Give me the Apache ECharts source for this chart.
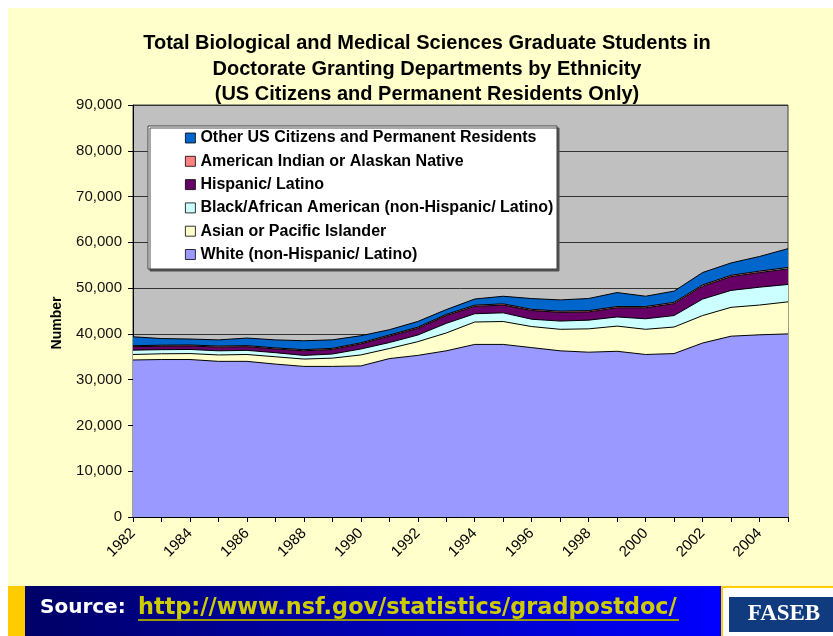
<!DOCTYPE html>
<html><head><meta charset="utf-8">
<script src="https://cdn.jsdelivr.net/npm/echarts@6/dist/echarts.min.js"></script>
<style>html,body{margin:0;padding:0;background:#fff}#c{width:833px;height:636px}</style>
</head><body><div id="c"></div>
<script>
const years = ['1982','1983','1984','1985','1986','1987','1988','1989','1990','1991','1992','1993','1994','1995','1996','1997','1998','1999','2000','2001','2002','2003','2004','2005'];
const white    = [34300,34400,34400,34000,34000,33400,32900,32900,33000,34600,35300,36300,37700,37700,37000,36300,36000,36200,35500,35700,38000,39500,39800,40000];
const asian    = [1200,1250,1300,1400,1500,1600,1600,1800,2400,2200,3000,3900,4900,5000,4600,4700,5100,5500,5500,5800,6000,6300,6500,7000];
const black    = [950,900,900,900,900,900,800,900,1300,1300,1450,2100,1800,1900,1600,1800,1900,2000,2300,2500,3600,3700,3900,3800];
const hispanic = [750,750,750,800,800,800,1000,1000,1100,1400,1450,1700,1600,1700,1900,1900,1800,2000,2400,2600,2800,3000,3200,3400];
const amind    = [220,230,230,240,240,240,250,250,250,260,260,260,270,270,270,270,280,280,280,290,300,300,310,320];
const other    = [1950,1450,1300,1350,1650,1750,1950,1850,1550,1150,1250,1050,1350,1650,2350,2450,2650,3050,2250,2450,2700,2700,3200,4100];

const seriesDefs = [
  {name:'White (non-Hispanic/ Latino)', data:white, color:'#9999FF'},
  {name:'Asian or Pacific Islander', data:asian, color:'#FFFFCC'},
  {name:'Black/African American (non-Hispanic/ Latino)', data:black, color:'#CCFFFF'},
  {name:'Hispanic/ Latino', data:hispanic, color:'#660066'},
  {name:'American Indian or Alaskan Native', data:amind, color:'#FF8080'},
  {name:'Other US Citizens and Permanent Residents', data:other, color:'#0066CC'}
];
const titleText = 'Total Biological and Medical Sciences Graduate Students in\nDoctorate Granting Departments by Ethnicity\n(US Citizens and Permanent Residents Only)';
const yName = 'Number';
const sourceLabel = 'Source:';
const sourceUrl = 'http://www.nsf.gov/statistics/gradpostdoc/';
const FONT = 'Liberation Sans, Arial, sans-serif';

const chart = echarts.init(document.getElementById('c'), null, {renderer:'canvas'});
const option = {
  animation:false,
  backgroundColor:'#ffffff',
  title:{text:titleText, left:427, top:31, textAlign:'center', padding:0,
    textStyle:{fontFamily:FONT, fontWeight:'bold', fontSize:20, color:'#000', lineHeight:25.5}},
  grid:{left:133, right:45, top:105, bottom:119, show:true, backgroundColor:'#C0C0C0', borderColor:'#404040', borderWidth:1, containLabel:false},
  legend:{orient:'vertical', left:185, top:130, itemWidth:10, itemHeight:10, itemGap:7.3, icon:'rect', padding:0, selectedMode:false,
    textStyle:{fontFamily:FONT, fontWeight:'bold', fontSize:16, color:'#000', lineHeight:15},
    itemStyle:{borderColor:'#000', borderWidth:0.8},
    data:seriesDefs.slice().reverse().map(s=>({name:s.name, itemStyle:{color:s.color, borderColor:'#000', borderWidth:0.8}}))},
  xAxis:{type:'category', data:years, boundaryGap:false,
    axisLine:{lineStyle:{color:'#000', width:1}},
    axisTick:{show:true, length:5, interval:0, lineStyle:{color:'#000'}},
    axisLabel:{interval:1, rotate:45, fontSize:15, color:'#000', margin:14, fontFamily:FONT},
    splitLine:{show:false}},
  yAxis:{type:'value', min:0, max:90000, interval:10000,
    axisLine:{show:true, lineStyle:{color:'#000'}},
    axisTick:{show:true, length:5, lineStyle:{color:'#000'}},
    axisLabel:{formatter:v=>String(v).replace(/\B(?=(\d{3})+(?!\d))/g, ','), color:'#111', fontSize:15, fontFamily:FONT, margin:11},
    splitLine:{show:true, lineStyle:{color:'#333', width:1}}},
  series:seriesDefs.map(s=>({
    name:s.name, type:'line', stack:'total', data:s.data, symbol:'none', smooth:false,
    lineStyle:{color:'#000', width:1}, itemStyle:{color:s.color},
    areaStyle:{color:s.color, opacity:1}
  })),
  graphic:[
    {type:'rect', z:-10, shape:{x:8, y:8, width:825, height:578}, style:{fill:'#FFFFCC'}},
    {type:'text', z:5, x:57, y:323, rotation:Math.PI/2, style:{x:0, y:0, text:yName, fill:'#000', font:'bold 14px "Liberation Sans", Arial, sans-serif', textAlign:'center', textVerticalAlign:'middle'}},
    {type:'rect', z:-10, shape:{x:8, y:586, width:17, height:50}, style:{fill:'#FFCC00'}},
    {type:'rect', z:-10, shape:{x:25, y:586, width:696, height:50}, style:{fill:new echarts.graphic.LinearGradient(0,0,1,0,[{offset:0,color:'#000066'},{offset:1,color:'#0000FF'}])}},
    {type:'rect', z:-10, shape:{x:721, y:586, width:112, height:50}, style:{fill:'#FFCC00'}},
    {type:'rect', z:-9, shape:{x:723, y:588, width:110, height:48}, style:{fill:'#FFFFFF'}},
    {type:'rect', z:-8, shape:{x:729, y:597, width:104, height:35}, style:{fill:'#103B7E'}},
    {type:'text', z:-7, style:{x:784, y:614, text:'FASEB', fill:'#FFFFFF', font:'bold 23px "Liberation Serif", "Times New Roman", serif', textAlign:'center', textVerticalAlign:'middle'}},
    {type:'text', z:-7, style:{x:40, y:608, text:sourceLabel, fill:'#FFFFFF', font:'bold 20px "DejaVu Sans", Verdana, sans-serif', textAlign:'left', textVerticalAlign:'middle'}},
    {type:'text', z:-7, style:{x:138, y:608, text:sourceUrl, fill:'#CCCC00', font:'bold 22.4px "DejaVu Sans", Verdana, sans-serif', textAlign:'left', textVerticalAlign:'middle'}},
    {type:'line', z:-7, shape:{x1:138, y1:620, x2:679, y2:620}, style:{stroke:'#999900', lineWidth:2}},
    {type:'rect', z:3, shape:{x:148, y:126, width:409, height:143}, style:{fill:'#FFFFFF', stroke:'#404040', lineWidth:1, shadowColor:'#505050', shadowOffsetX:2, shadowOffsetY:2, shadowBlur:0}}
  ]
};
chart.setOption(option);
</script>
</body></html>
